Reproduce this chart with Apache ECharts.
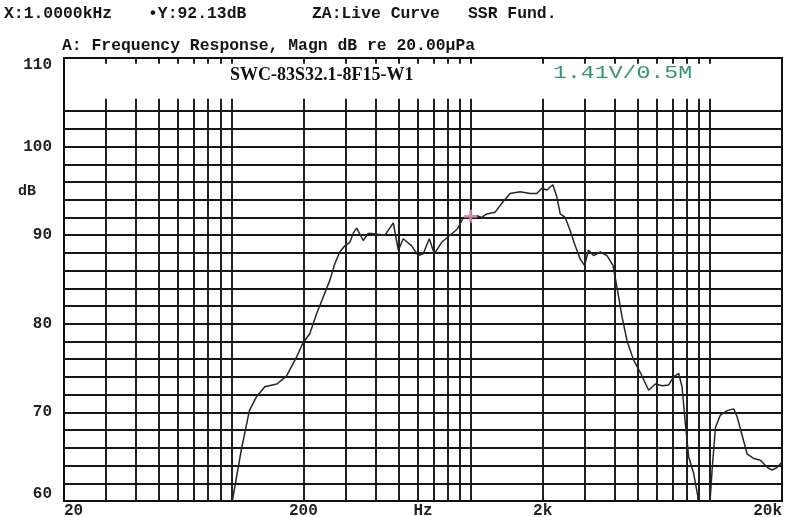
<!DOCTYPE html>
<html>
<head>
<meta charset="utf-8">
<script src="https://cdn.jsdelivr.net/npm/echarts@6/dist/echarts.min.js"></script>
<style>
html,body{margin:0;padding:0;background:#fff;}
#chart{width:800px;height:517px;}
</style>
</head>
<body>
<div id="chart"></div>
<script>
// ---- data ----
const freqs = [101, 110, 119, 127, 138, 155, 170, 187, 199, 213, 227, 242, 258, 271, 284, 298, 313, 323, 334, 356, 373, 386, 439, 475, 499, 523, 567, 604, 634, 672, 705, 757, 820, 880, 933, 1000, 1061, 1113, 1168, 1266, 1350, 1462, 1610, 1773, 1891, 1985, 2082, 2206, 2293, 2368, 2484, 2607, 2735, 2871, 2992, 3110, 3264, 3481, 3713, 3934, 4088, 4290, 4502, 4798, 5117, 5543, 5913, 6307, 6720, 7052, 7400, 7645, 7894, 8149, 8551, 8888, 9390, 10044, 10209, 10541, 11058, 11794, 12570, 12988, 13630, 14302, 15241, 16255, 17342, 18197, 19096, 20000];
const dB = [60, 65.7, 70.2, 71.7, 72.9, 73.2, 74.1, 76.2, 77.8, 78.9, 81.1, 83.0, 84.9, 86.8, 88.1, 88.8, 89.2, 90.2, 90.8, 89.4, 90.2, 90.2, 90.0, 91.4, 88.3, 89.6, 88.8, 87.7, 87.9, 89.6, 87.9, 89.2, 90.0, 90.7, 92.0, 92.13, 92.2, 92.0, 92.4, 92.6, 93.6, 94.7, 94.9, 94.7, 94.7, 95.3, 95.1, 95.7, 94.3, 92.4, 92.0, 90.5, 88.8, 87.3, 86.6, 88.3, 87.7, 88.1, 87.7, 86.6, 84.1, 80.8, 78.1, 75.9, 74.5, 72.5, 73.2, 73.0, 73.1, 74.0, 74.4, 72.9, 68.7, 65.0, 63.1, 60.6, 50, 60.6, 63.5, 68.3, 69.7, 70.2, 70.4, 69.5, 67.4, 65.3, 64.8, 64.6, 63.8, 63.5, 63.8, 64.4];
const gridFreqs = [30, 40, 50, 60, 70, 80, 90, 100, 200, 300, 400, 500, 600, 700, 800, 900, 1000, 2000, 3000, 4000, 5000, 6000, 7000, 8000, 9000, 10000];
const gridDb = [62, 64, 66, 68, 70, 72, 74, 76, 78, 80, 82, 84, 86, 88, 90, 92, 94, 96, 98, 100, 102, 104];
// bottom labels, one per half decade from 20 Hz to 20 kHz
const xTickLabels = ['20', '', '200', 'Hz', '2k', '', '20k'];
const cursorFreq = 1000;
const cursorDb = 92.13;
const headerTexts = ['X:1.0000kHz', '\u2022Y:92.13dB', 'ZA:Live Curve', 'SSR Fund.'];
const titleText = 'A: Frequency Response, Magn dB re 20.00\u03bcPa';
const modelText = 'SWC-83S32.1-8F15-W1';
const levelText = '1.41V/0.5M';

// ---- chart ----
const chart = echarts.init(document.getElementById('chart'), null, {renderer: 'canvas'});
const curve = freqs.map((f, i) => [f, dB[i]]);
const gridColor = '#161616';
const mono = '"Liberation Mono", "DejaVu Sans Mono", monospace';
const headFont = 'bold 16.4px ' + mono;

const markData = [];
gridDb.forEach(v => markData.push({yAxis: v}));
gridFreqs.forEach(f => {
  markData.push([{coord: [f, 60]}, {coord: [f, 105.4]}]);
  markData.push([{coord: [f, 110]}, {coord: [f, 109.35]}]);
});

const option = {
  animation: false,
  backgroundColor: '#fff',
  grid: {left: 64, right: 18, top: 58, bottom: 16, outerBoundsMode: 'none', containLabel: false,
         show: true, borderColor: '#111', borderWidth: 2, backgroundColor: '#fff'},
  xAxis: [
    {type: 'log', logBase: 10, min: 20, max: 20000, gridIndex: 0,
     axisLine: {show: false}, axisTick: {show: false}, axisLabel: {show: false}, splitLine: {show: false}},
    {type: 'value', min: 0, max: xTickLabels.length - 1, interval: 1, gridIndex: 0, position: 'bottom',
     axisLine: {show: false}, axisTick: {show: false}, splitLine: {show: false},
     axisLabel: {show: true, margin: 2, color: '#222', fontFamily: mono, fontWeight: 'bold', fontSize: 16,
       alignMinLabel: 'left', alignMaxLabel: 'right', hideOverlap: false,
       formatter: v => xTickLabels[Math.round(v)] || ''}}
  ],
  yAxis: {
    type: 'value', min: 60, max: 110, interval: 5,
    axisLine: {show: false}, axisTick: {show: false}, splitLine: {show: false},
    axisLabel: {
      margin: 12, color: '#222', fontFamily: mono, fontWeight: 'bold', fontSize: 16,
      formatter: v => {
        if (v === 110) return '{top|110}';
        if (v === 60) return '{bot|60}';
        if (v === 95) return '{db|dB}';
        return v % 10 === 0 ? String(v) : '';
      },
      rich: {
        top: {padding: [14, 0, 0, 0], fontFamily: mono, fontWeight: 'bold', fontSize: 16, color: '#222'},
        bot: {padding: [0, 0, 14, 0], fontFamily: mono, fontWeight: 'bold', fontSize: 16, color: '#222'},
        db: {padding: [0, 16, 0, 0], fontFamily: mono, fontWeight: 'bold', fontSize: 15, color: '#222'}
      }
    }
  },
  graphic: [
    {type: 'text', left: 4, top: 6, style: {text: headerTexts[0], font: headFont, fill: '#151515'}},
    {type: 'text', left: 148, top: 6, style: {text: headerTexts[1], font: headFont, fill: '#151515'}},
    {type: 'text', left: 312, top: 6, style: {text: headerTexts[2], font: headFont, fill: '#151515'}},
    {type: 'text', left: 468, top: 6, style: {text: headerTexts[3], font: headFont, fill: '#151515'}},
    {type: 'text', left: 62, top: 38, style: {text: titleText, font: headFont, fill: '#151515'}},
    {type: 'text', left: 230, top: 66, style: {text: modelText, font: 'bold 18px "Liberation Serif", "DejaVu Serif", serif', fill: '#111'}},
    {type: 'text', x: 553, y: 63, scaleX: 1.22, style: {text: levelText, font: '19px ' + mono, fill: '#2f9a68'}}
  ],
  series: [
    {type: 'line', xAxisIndex: 0, yAxisIndex: 0, data: [], z: 1, silent: true,
     markLine: {z: 1, silent: true, symbol: 'none', animation: false, label: {show: false},
       lineStyle: {type: 'solid', color: gridColor, width: 1.9}, data: markData}},
    {type: 'line', xAxisIndex: 0, yAxisIndex: 0, data: curve, z: 3, symbol: 'none', smooth: false, clip: true,
     lineStyle: {color: '#262626', width: 1.5}},
    {type: 'scatter', xAxisIndex: 0, yAxisIndex: 0, data: [[cursorFreq, cursorDb]], z: 4,
     symbol: 'path://M0,4L10,4L10,6L0,6ZM4,0L6,0L6,10L4,10Z', symbolSize: 13,
     itemStyle: {color: '#e58ab6', opacity: 0.9}}
  ]
};
chart.setOption(option);
</script>
</body>
</html>
